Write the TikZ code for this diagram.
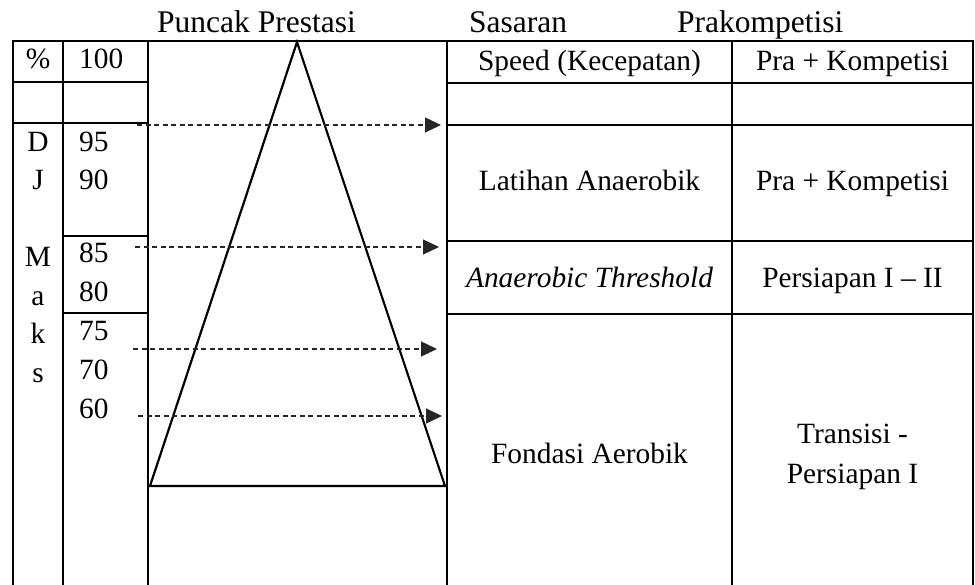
\documentclass[tikz,border=0pt]{standalone}
\usepackage{fontspec}
\setmainfont{Liberation Serif}
\usetikzlibrary{arrows.meta}
\begin{document}
\begin{tikzpicture}[x=1pt,y=-1pt,
  grid/.style={line width=2pt, line cap=rect},
  tri/.style={line width=2.2pt, line join=miter},
  dasharrow/.style={line width=1.2pt, draw=black!85, dash pattern=on 5pt off 3.5pt, -{Triangle[length=16pt,width=15pt]}},
  txt/.style={anchor=base, inner sep=0pt, font=\fontsize{29.4}{35}\selectfont},
  ltxt/.style={txt, anchor=base west},
  head/.style={anchor=base, inner sep=0pt, font=\fontsize{31.5}{37}\selectfont},
  lhead/.style={head, anchor=base west},
  ]
\useasboundingbox (0,0) rectangle (975,585);
% table lines
\draw[grid] (13,41) -- (973,41);
\foreach \x in {13,63,148,447,732,973} \draw[grid] (\x,41) -- (\x,585);
\draw[grid] (13,82) -- (148,82) (447,83) -- (973,83);
\draw[grid] (13,123) -- (148,123) (447,125) -- (973,125);
\draw[grid] (63,236) -- (148,236) (447,241) -- (973,241);
\draw[grid] (63,313) -- (148,313) (447,314) -- (973,314);
% triangle
\coordinate (apex) at (297,42);
\coordinate (bl) at (150,486);
\coordinate (br) at (445,486);
\draw[tri] (apex) -- (bl) -- (br) -- cycle;
% headings
\node[head] (h1) at (256.5,33) {Puncak Prestasi};
\node[lhead] (h2) at (469,33) {Sasaran};
\node[lhead] (h3) at (677,33) {Prakompetisi};
% left columns
\node[txt] (pct) at (38,69) {\%};
\node[ltxt] (n100) at (79,69) {100};
\node[txt] (cD) at (38,152) {D};
\node[txt] (cJ) at (38,190) {J};
\node[txt] (cM) at (38,267) {M};
\node[txt] (ca) at (38,306) {a};
\node[txt] (ck) at (38,344) {k};
\node[txt] (cs) at (38,382) {s};
\node[ltxt] (n95) at (79,152) {95};
\node[ltxt] (n90) at (79,190) {90};
\node[ltxt] (n85) at (79,263) {85};
\node[ltxt] (n80) at (79,302) {80};
\node[ltxt] (n75) at (79,341) {75};
\node[ltxt] (n70) at (79,380) {70};
\node[ltxt] (n60) at (79,418) {60};
% right columns
\node[txt] (s1) at (589.5,70.5) {Speed (Kecepatan)};
\node[txt] (p1) at (852.5,70.5) {Pra + Kompetisi};
\node[txt] (s2) at (589.5,191) {Latihan Anaerobik};
\node[txt] (p2) at (852.5,191) {Pra + Kompetisi};
\node[txt] (s3) at (589.5,288) {\itshape Anaerobic Threshold};
\node[txt] (p3) at (852.5,288) {Persiapan I – II};
\node[txt] (s4) at (589.5,463) {Fondasi Aerobik};
\node[txt] (p4a) at (852.5,443) {Transisi -};
\node[txt] (p4b) at (852.5,483) {Persiapan I};
% dashed arrows
\coordinate (a1s) at (137,125); \coordinate (a1e) at (441,125);
\coordinate (a2s) at (135,247); \coordinate (a2e) at (439,247);
\coordinate (a3s) at (133,349); \coordinate (a3e) at (437,349);
\coordinate (a4s) at (138,416); \coordinate (a4e) at (442,416);
\draw[dasharrow] (a1s) -- (a1e);
\draw[dasharrow] (a2s) -- (a2e);
\draw[dasharrow] (a3s) -- (a3e);
\draw[dasharrow] (a4s) -- (a4e);
\end{tikzpicture}
\end{document}
